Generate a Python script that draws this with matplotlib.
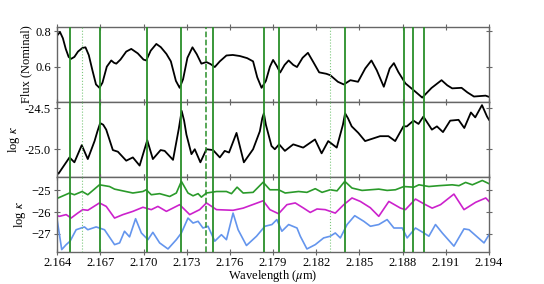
import numpy as np
import matplotlib
matplotlib.use("Agg")
import matplotlib.pyplot as plt
from matplotlib.ticker import MultipleLocator, FixedLocator, FormatStrFormatter

plt.rcParams['font.family'] = ['Liberation Serif', 'DejaVu Serif']
plt.rcParams['mathtext.fontset'] = 'stix'
plt.rcParams['font.size'] = 9

# top panel: nominal flux
wl_flux = [2.16400, 2.16420, 2.16440, 2.16460, 2.16480, 2.16497, 2.16520, 2.16545, 2.16575,
           2.16597, 2.16620, 2.16645, 2.16670, 2.16694, 2.16715, 2.16745, 2.16776, 2.16795,
           2.16811, 2.16840, 2.16880, 2.16915, 2.16960, 2.17000, 2.17019, 2.17050, 2.17089,
           2.17120, 2.17159, 2.17190, 2.17225, 2.17251, 2.17275, 2.17305, 2.17340, 2.17370,
           2.17402, 2.17437, 2.17465, 2.17495, 2.17530, 2.17576, 2.17620, 2.17669, 2.17720,
           2.17761, 2.17790, 2.17820, 2.17850, 2.17878, 2.17900, 2.17925, 2.17949, 2.17980,
           2.18008, 2.18040, 2.18066, 2.18105, 2.18142, 2.18180, 2.18220, 2.18270, 2.18297,
           2.18350, 2.18391, 2.18437, 2.18490, 2.18540, 2.18583, 2.18620, 2.18669, 2.18710,
           2.18739, 2.18770, 2.18819, 2.18880, 2.18936, 2.19000, 2.19070, 2.19110, 2.19144,
           2.19209, 2.19250, 2.19295, 2.19376, 2.19400]
flux = [0.775, 0.795, 0.760, 0.700, 0.655, 0.644, 0.655, 0.685, 0.705,
        0.709, 0.665, 0.580, 0.500, 0.481, 0.510, 0.600, 0.635, 0.622,
        0.617, 0.640, 0.685, 0.700, 0.675, 0.640, 0.635, 0.690, 0.728,
        0.710, 0.672, 0.630, 0.520, 0.481, 0.530, 0.650, 0.709, 0.670,
        0.617, 0.626, 0.615, 0.598, 0.630, 0.663, 0.666, 0.660, 0.648,
        0.630, 0.540, 0.481, 0.520, 0.600, 0.638, 0.605, 0.567, 0.610,
        0.635, 0.610, 0.598, 0.650, 0.678, 0.625, 0.568, 0.560, 0.552,
        0.515, 0.500, 0.524, 0.515, 0.590, 0.635, 0.580, 0.487, 0.590,
        0.620, 0.570, 0.506, 0.465, 0.426, 0.480, 0.524, 0.495, 0.478,
        0.481, 0.455, 0.432, 0.437, 0.430]

# middle panel: total log kappa
wl_mid = [2.16400, 2.16409, 2.16486, 2.16520, 2.16571, 2.16613, 2.16660, 2.16680, 2.16699,
          2.16720, 2.16741, 2.16787, 2.16822, 2.16880, 2.16926, 2.16973, 2.17026, 2.17065,
          2.17119, 2.17147, 2.17205, 2.17245, 2.17265, 2.17282, 2.17298, 2.17333, 2.17356,
          2.17395, 2.17437, 2.17483, 2.17530, 2.17564, 2.17594, 2.17646, 2.17697, 2.17761,
          2.17808, 2.17825, 2.17836, 2.17850, 2.17889, 2.17912, 2.17942, 2.17982, 2.18040,
          2.18109, 2.18191, 2.18237, 2.18283, 2.18342, 2.18385, 2.18400, 2.18420, 2.18446,
          2.18492, 2.18539, 2.18643, 2.18701, 2.18748, 2.18805, 2.18829, 2.18875, 2.18910,
          2.18944, 2.19003, 2.19038, 2.19080, 2.19130, 2.19188, 2.19228, 2.19274, 2.19304,
          2.19351, 2.19386, 2.19400]
kappa_mid = [-25.28, -25.30, -25.10, -25.16, -24.95, -25.12, -24.90, -24.78, -24.68,
             -24.70, -24.76, -25.01, -25.03, -25.14, -25.10, -25.20, -24.89, -25.12,
             -25.01, -25.02, -25.13, -24.75, -24.53, -24.65, -24.82, -25.06, -25.00,
             -25.16, -25.00, -25.01, -25.10, -25.02, -25.04, -24.80, -25.16, -25.00,
             -24.78, -24.62, -24.56, -24.70, -24.96, -25.00, -24.94, -25.02, -24.94,
             -24.98, -24.88, -25.05, -24.90, -24.98, -24.70, -24.56, -24.62, -24.72,
             -24.80, -24.90, -24.84, -24.84, -24.90, -24.72, -24.72, -24.65, -24.69,
             -24.60, -24.76, -24.72, -24.79, -24.65, -24.64, -24.74, -24.55, -24.61,
             -24.46, -24.60, -24.64]

# bottom panel: log kappa of three components
wl_green = [2.16400, 2.16486, 2.16520, 2.16574, 2.16613, 2.16694, 2.16764, 2.16799, 2.16926,
            2.16996, 2.17019, 2.17054, 2.17112, 2.17182, 2.17228, 2.17263, 2.17309, 2.17344,
            2.17379, 2.17402, 2.17437, 2.17507, 2.17576, 2.17611, 2.17650, 2.17692, 2.17761,
            2.17831, 2.17878, 2.17938, 2.17984, 2.18077, 2.18135, 2.18193, 2.18240, 2.18297,
            2.18344, 2.18398, 2.18448, 2.18518, 2.18634, 2.18692, 2.18750, 2.18808, 2.18878,
            2.18913, 2.18982, 2.19052, 2.19144, 2.19191, 2.19237, 2.19284, 2.19353, 2.19400]
kappa_green = [-25.37, -25.12, -25.20, -25.05, -25.20, -24.74, -24.82, -24.94, -25.12,
               -25.05, -24.97, -25.20, -25.15, -25.28, -25.12, -24.58, -25.12, -25.25,
               -25.15, -25.31, -25.12, -25.05, -25.05, -25.15, -24.85, -25.12, -25.09,
               -24.62, -24.97, -24.97, -25.12, -25.05, -25.09, -24.92, -25.09, -24.97,
               -25.02, -24.58, -24.89, -25.00, -24.94, -25.00, -24.97, -24.82, -24.85,
               -24.74, -24.82, -24.78, -24.74, -24.78, -24.63, -24.74, -24.54, -24.69]
wl_mag = [2.16400, 2.16416, 2.16463, 2.16497, 2.16543, 2.16578, 2.16613, 2.16637, 2.16694,
          2.16741, 2.16799, 2.16857, 2.16926, 2.16996, 2.17054, 2.17100, 2.17159, 2.17251,
          2.17321, 2.17390, 2.17437, 2.17507, 2.17622, 2.17692, 2.17831, 2.17878, 2.17938,
          2.17996, 2.18054, 2.18112, 2.18158, 2.18205, 2.18262, 2.18332, 2.18391, 2.18448,
          2.18506, 2.18575, 2.18634, 2.18704, 2.18785, 2.18819, 2.18889, 2.18947, 2.19005,
          2.19063, 2.19156, 2.19226, 2.19307, 2.19377, 2.19400]
kappa_mag = [-26.17, -26.20, -26.12, -26.28, -26.05, -25.89, -25.92, -25.82, -25.58,
             -25.74, -26.28, -26.12, -25.97, -25.78, -25.89, -25.74, -25.97, -25.66,
             -26.12, -25.89, -25.58, -25.89, -25.92, -25.82, -25.48, -25.89, -26.08,
             -25.66, -25.58, -25.82, -26.02, -25.86, -25.89, -26.05, -25.66, -25.35,
             -25.51, -25.80, -26.20, -25.51, -25.82, -25.89, -25.40, -25.62, -25.82,
             -25.66, -25.17, -25.89, -25.55, -25.35, -25.51]
wl_blue = [2.16400, 2.16415, 2.16432, 2.16463, 2.16490, 2.16532, 2.16590, 2.16613, 2.16671,
           2.16729, 2.16799, 2.16834, 2.16868, 2.16903, 2.16945, 2.16985, 2.17031, 2.17065,
           2.17112, 2.17170, 2.17228, 2.17263, 2.17309, 2.17344, 2.17379, 2.17413, 2.17448,
           2.17495, 2.17541, 2.17576, 2.17622, 2.17657, 2.17715, 2.17785, 2.17843, 2.17892,
           2.17926, 2.17961, 2.18008, 2.18066, 2.18089, 2.18135, 2.18193, 2.18251, 2.18297,
           2.18332, 2.18367, 2.18414, 2.18467, 2.18530, 2.18576, 2.18634, 2.18692, 2.18739,
           2.18797, 2.18831, 2.18889, 2.18947, 2.18982, 2.19028, 2.19075, 2.19156, 2.19226,
           2.19261, 2.19365, 2.19400]
kappa_blue = [-26.35, -27.00, -27.74, -27.51, -27.35, -26.82, -26.69, -26.82, -26.69,
              -26.82, -27.51, -27.43, -26.89, -27.15, -26.31, -26.97, -27.28, -26.94,
              -27.43, -27.71, -27.28, -26.97, -26.28, -26.51, -26.43, -26.74, -26.66,
              -27.35, -27.05, -27.28, -26.05, -26.82, -27.55, -27.12, -26.66, -26.58,
              -26.35, -26.89, -26.58, -26.74, -27.12, -27.71, -27.51, -27.20, -27.12,
              -26.97, -27.20, -26.58, -26.17, -26.43, -26.66, -26.58, -26.35, -26.74,
              -26.74, -27.20, -26.74, -26.97, -27.12, -26.58, -26.97, -27.58, -26.78,
              -26.82, -27.43, -27.05]

# marked line positions
solid_lines = [2.16490, 2.16697, 2.17024, 2.17263, 2.17484, 2.17836, 2.17938,
               2.18398, 2.18810, 2.18872, 2.18946]
dotted_lines = [2.16574, 2.18292]
dashed_lines = [2.17437]
wl_ticks = [2.164, 2.167, 2.170, 2.173, 2.176, 2.179, 2.182, 2.185, 2.188, 2.191, 2.194]

fig, axes = plt.subplots(3, 1, sharex=True, figsize=(5.44, 2.84), dpi=100)
fig.subplots_adjust(left=0.105, right=0.899, top=0.906, bottom=0.112, hspace=0)
ax1, ax2, ax3 = axes

ax1.plot(wl_flux, flux, color='black', lw=1.3)
ax2.plot(wl_mid, kappa_mid, color='black', lw=1.3)
ax3.plot(wl_green, kappa_green, color='#2a9a2a', lw=1.2)
ax3.plot(wl_mag, kappa_mag, color='#cc22cc', lw=1.2)
ax3.plot(wl_blue, kappa_blue, color='#6495ed', lw=1.2)

for ax in axes:
    for w in solid_lines:
        ax.axvline(w, color='#2a8f2a', lw=1.3, zorder=3)
    for w in dotted_lines:
        ax.axvline(w, color='#7cc87c', lw=0.8, ls=':', zorder=3)
    for w in dashed_lines:
        ax.axvline(w, color='#2a8f2a', lw=1.1, ls='--', zorder=3)
    for s in ax.spines.values():
        s.set_color('#666666')
        s.set_linewidth(1.0)
    ax.tick_params(direction='inout', top=True, right=True, color='#666666',
                   length=5, width=0.8, labelsize=9, pad=2)
ax3.tick_params(axis='x', pad=1)

ax1.set_ylim(0.402, 0.825)
ax1.yaxis.set_major_locator(MultipleLocator(0.2))
ax1.yaxis.set_major_formatter(FormatStrFormatter('%.1f'))
ax1.set_ylabel('Flux (Nominal)', labelpad=2)

ax2.set_ylim(-25.34, -24.42)
ax2.yaxis.set_major_locator(MultipleLocator(0.5))
ax2.yaxis.set_major_formatter(FormatStrFormatter('%.1f'))
ax2.set_ylabel(r'log $\kappa$', labelpad=2)

ax3.set_ylim(-27.86, -24.38)
ax3.yaxis.set_major_locator(MultipleLocator(1))
ax3.set_ylabel(r'log $\kappa$', labelpad=2)

ax3.set_xlim(2.164, 2.194)
ax3.xaxis.set_major_locator(FixedLocator(wl_ticks))
ax3.xaxis.set_major_formatter(FormatStrFormatter('%.3f'))
ax3.set_xlabel(r'Wavelength ($\mu$m)', labelpad=-1)

fig.savefig('out.png', dpi=100)
